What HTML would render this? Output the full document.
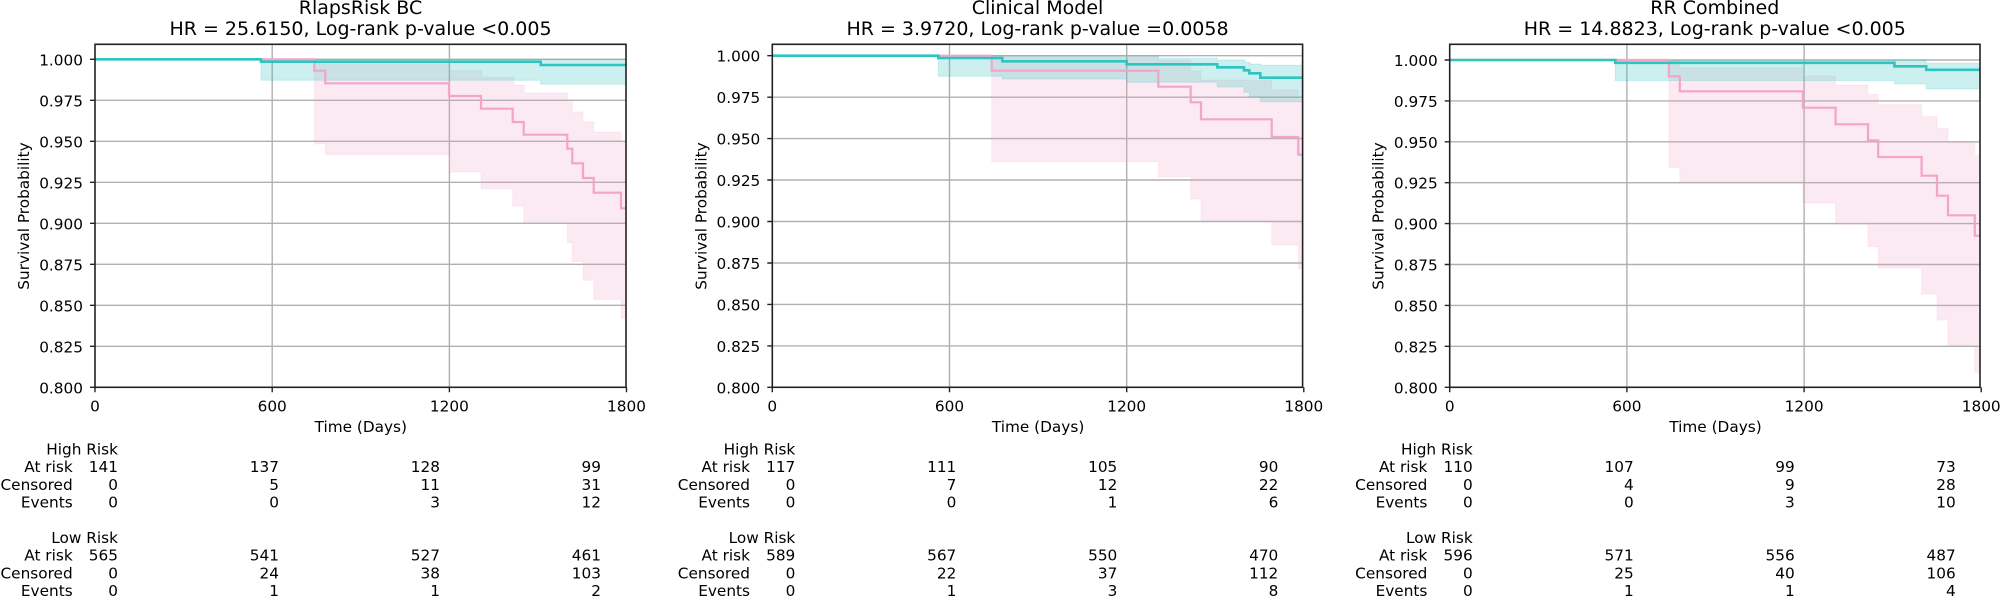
<!DOCTYPE html>
<html><head><meta charset="utf-8"><style>
html,body{margin:0;padding:0;background:#fff;}
svg{display:block;font-family:"DejaVu Sans","Liberation Sans",sans-serif;font-size:15.3px;}
.g{stroke:#b0b0b0;stroke-width:1.4;fill:none}
.sp{stroke:#222;stroke-width:1.6;fill:none}
.tl{stroke:#222;stroke-width:1.4}
.tb{fill:#2ec4be;fill-opacity:0.25;stroke:#2ec4be;stroke-opacity:0.2;stroke-width:1}
.pb{fill:#f0a0c4;fill-opacity:0.22;stroke:#f0a0c4;stroke-opacity:0.15;stroke-width:1}
.t{fill:none;stroke:#2ec4c0;stroke-width:2.6}
.p{fill:none;stroke:#f4a3c9;stroke-width:2.2}
.e{text-anchor:end}
.m{text-anchor:middle}
.ti{text-anchor:middle;font-size:19px}
</style></head><body>
<svg width="2000" height="597" viewBox="0 0 2000 597" xmlns="http://www.w3.org/2000/svg">

<!-- ============ PANEL 1 ============ -->
<g class="g">
<path d="M95,59.3H626M95,100.3H626M95,141.3H626M95,182.3H626M95,223.3H626M95,264.3H626M95,305.3H626M95,346.3H626"/>
<path d="M272.2,44.3V387.3M449.4,44.3V387.3"/>
</g>
<path class="pb" d="M314.3,59.3H449V70.7H481.7V77.3H513.7V85H524.3V93H567.3V102H572.3V112H583V121.7H593.7V132H621V141.7H626V318.3H621V299.3H593.7V280.3H583V261.7H572.3V242.7H567.3V222H523.7V206H512.7V188.7H481V172H449V154.7H325.3V144H314.3Z"/>
<path class="tb" d="M261,59.3H626V84.3H540.7V80.3H261Z"/>
<path class="p" d="M95,59.3H314.3V70.7H325.3V83.3H449V96H481V108.7H512.7V122H523.7V134.7H567.3V148.7H572.3V163.3H583V178H593.7V192.7H621V208.3H626"/>
<path class="t" d="M95,59.3H261V61.7H540.7V65H626"/>
<rect class="sp" x="95" y="44.3" width="531" height="343"/>
<path class="tl" d="M90,59.3H95M90,100.3H95M90,141.3H95M90,182.3H95M90,223.3H95M90,264.3H95M90,305.3H95M90,346.3H95M90,387.3H95"/>
<g class="e">
<text x="83" y="65.3">1.000</text><text x="83" y="106.3">0.975</text><text x="83" y="147.3">0.950</text><text x="83" y="188.3">0.925</text><text x="83" y="229.3">0.900</text><text x="83" y="270.3">0.875</text><text x="83" y="311.3">0.850</text><text x="83" y="352.3">0.825</text><text x="83" y="393.3">0.800</text>
</g>
<text class="ti" x="360.5" y="14">RlapsRisk BC</text>
<text class="ti" x="360.5" y="35">HR = 25.6150, Log-rank p-value &lt;0.005</text>

<!-- ============ PANEL 2 ============ -->
<g class="g">
<path d="M772.3,55.7H1302.6M772.3,97.2H1302.6M772.3,138.6H1302.6M772.3,180H1302.6M772.3,221.5H1302.6M772.3,263H1302.6M772.3,304.4H1302.6M772.3,345.9H1302.6"/>
<path d="M949.5,44.3V387.3M1126.7,44.3V387.3"/>
</g>
<path class="pb" d="M991.7,55.7H1158.3V60H1190.7V71H1201V80H1271.7V90H1298.3V100H1302.6V269H1298.3V245H1271.7V220.7H1201V199H1190.7V176.7H1158.3V161.7H991.7Z"/>
<path class="tb" d="M938.3,55.7H1158.3V58.3H1217.3V60H1245V62.3H1250V64H1260.7V65.3H1302.6V101.7H1260.3V96.7H1249.3V92.3H1244V87H1217.3V82.3H1126.7V79H1002.3V76.3H938.3Z"/>
<path class="p" d="M772.3,55.7H991.7V70.7H1158.3V86.7H1190.7V102.3H1201V119.3H1271.7V137H1298.3V154.7H1302.6"/>
<path class="t" d="M772.3,55.7H938.3V58H1002.3V61.3H1126.7V64.3H1217.3V67.3H1244V70.3H1249.3V73.3H1260.3V77.7H1302.6"/>
<rect class="sp" x="772.3" y="44.3" width="530.3" height="343"/>
<path class="tl" d="M767.3,55.7H772.3M767.3,97.2H772.3M767.3,138.6H772.3M767.3,180H772.3M767.3,221.5H772.3M767.3,263H772.3M767.3,304.4H772.3M767.3,345.9H772.3M767.3,387.3H772.3"/>
<g class="e">
<text x="760.3" y="61.7">1.000</text><text x="760.3" y="103.2">0.975</text><text x="760.3" y="144.6">0.950</text><text x="760.3" y="186">0.925</text><text x="760.3" y="227.5">0.900</text><text x="760.3" y="269">0.875</text><text x="760.3" y="310.4">0.850</text><text x="760.3" y="351.9">0.825</text><text x="760.3" y="393.3">0.800</text>
</g>
<text class="ti" x="1037.5" y="14">Clinical Model</text>
<text class="ti" x="1037.5" y="35">HR = 3.9720, Log-rank p-value =0.0058</text>

<!-- ============ PANEL 3 ============ -->
<g class="g">
<path d="M1449.7,60H1980M1449.7,100.9H1980M1449.7,141.8H1980M1449.7,182.7H1980M1449.7,223.6H1980M1449.7,264.5H1980M1449.7,305.4H1980M1449.7,346.3H1980"/>
<path d="M1626.9,44.3V387.3M1804.1,44.3V387.3"/>
</g>
<path class="pb" d="M1668.9,60H1679.8V67.7H1802.8V76H1835.6V85H1868V94.3H1878.2V104.7H1921.6V116.7H1937V128.3H1948V142.7H1974.8V155.7H1980V372.3H1974.8V345.7H1948V320H1937V294H1921.6V268H1878.2V246.7H1868V224.3H1835.6V203H1802.8V182H1679.8V167.7H1668.9Z"/>
<path class="tb" d="M1615.3,60H1926.2V63.3H1980V89H1926.2V84H1894.4V80.5H1615.3Z"/>
<path class="p" d="M1449.7,60H1668.9V76.3H1679.8V91.3H1802.8V107.7H1835.6V124.3H1868V140.3H1878.2V157H1921.6V175.7H1937V195.7H1948V215.3H1974.8V235.7H1980"/>
<path class="t" d="M1449.7,60H1615.3V62.8H1894.4V66.3H1926.2V69.8H1980"/>
<rect class="sp" x="1449.7" y="44.3" width="530.3" height="343"/>
<path class="tl" d="M1444.7,60H1449.7M1444.7,100.9H1449.7M1444.7,141.8H1449.7M1444.7,182.7H1449.7M1444.7,223.6H1449.7M1444.7,264.5H1449.7M1444.7,305.4H1449.7M1444.7,346.3H1449.7M1444.7,387.3H1449.7"/>
<g class="e">
<text x="1437.7" y="66">1.000</text><text x="1437.7" y="106.9">0.975</text><text x="1437.7" y="147.8">0.950</text><text x="1437.7" y="188.7">0.925</text><text x="1437.7" y="229.6">0.900</text><text x="1437.7" y="270.5">0.875</text><text x="1437.7" y="311.4">0.850</text><text x="1437.7" y="352.3">0.825</text><text x="1437.7" y="393.3">0.800</text>
</g>
<text class="ti" x="1714.8" y="14">RR Combined</text>
<text class="ti" x="1714.8" y="35">HR = 14.8823, Log-rank p-value &lt;0.005</text>

<!-- ============ shared per-panel: x ticks, labels ============ -->
<g>
<path class="tl" d="M95,387.3V392.3M272.2,387.3V392.3M449.4,387.3V392.3M626.5,387.3V392.3"/>
<text class="m" x="95" y="411.5">0</text><text class="m" x="272.2" y="411.5">600</text><text class="m" x="449.4" y="411.5">1200</text><text class="m" x="626.5" y="411.5">1800</text>
<text class="m" x="360.8" y="432">Time (Days)</text>
<text class="m" transform="translate(29,216) rotate(-90)">Survival Probability</text>
</g>
<g transform="translate(677.3,0)">
<path class="tl" d="M95,387.3V392.3M272.2,387.3V392.3M449.4,387.3V392.3M626.5,387.3V392.3"/>
<text class="m" x="95" y="411.5">0</text><text class="m" x="272.2" y="411.5">600</text><text class="m" x="449.4" y="411.5">1200</text><text class="m" x="626.5" y="411.5">1800</text>
<text class="m" x="360.8" y="432">Time (Days)</text>
<text class="m" transform="translate(29,216) rotate(-90)">Survival Probability</text>
</g>
<g transform="translate(1354.7,0)">
<path class="tl" d="M95,387.3V392.3M272.2,387.3V392.3M449.4,387.3V392.3M626.5,387.3V392.3"/>
<text class="m" x="95" y="411.5">0</text><text class="m" x="272.2" y="411.5">600</text><text class="m" x="449.4" y="411.5">1200</text><text class="m" x="626.5" y="411.5">1800</text>
<text class="m" x="360.8" y="432">Time (Days)</text>
<text class="m" transform="translate(29,216) rotate(-90)">Survival Probability</text>
</g>

<!-- tables -->
<g class="e">
<text x="118" y="454.5">High Risk</text>
<text x="72.7" y="472.2">At risk</text><text x="72.7" y="489.9">Censored</text><text x="72.7" y="507.6">Events</text>
<text x="118" y="472.2">141</text><text x="279" y="472.2">137</text><text x="440" y="472.2">128</text><text x="601" y="472.2">99</text>
<text x="118" y="489.9">0</text><text x="279" y="489.9">5</text><text x="440" y="489.9">11</text><text x="601" y="489.9">31</text>
<text x="118" y="507.6">0</text><text x="279" y="507.6">0</text><text x="440" y="507.6">3</text><text x="601" y="507.6">12</text>
<text x="118" y="543">Low Risk</text>
<text x="72.7" y="560.7">At risk</text><text x="72.7" y="578.4">Censored</text><text x="72.7" y="596">Events</text>
<text x="118" y="560.7">565</text><text x="279" y="560.7">541</text><text x="440" y="560.7">527</text><text x="601" y="560.7">461</text>
<text x="118" y="578.4">0</text><text x="279" y="578.4">24</text><text x="440" y="578.4">38</text><text x="601" y="578.4">103</text>
<text x="118" y="596">0</text><text x="279" y="596">1</text><text x="440" y="596">1</text><text x="601" y="596">2</text>
</g>
<g class="e" transform="translate(677.3,0)">
<text x="118" y="454.5">High Risk</text>
<text x="72.7" y="472.2">At risk</text><text x="72.7" y="489.9">Censored</text><text x="72.7" y="507.6">Events</text>
<text x="118" y="472.2">117</text><text x="279" y="472.2">111</text><text x="440" y="472.2">105</text><text x="601" y="472.2">90</text>
<text x="118" y="489.9">0</text><text x="279" y="489.9">7</text><text x="440" y="489.9">12</text><text x="601" y="489.9">22</text>
<text x="118" y="507.6">0</text><text x="279" y="507.6">0</text><text x="440" y="507.6">1</text><text x="601" y="507.6">6</text>
<text x="118" y="543">Low Risk</text>
<text x="72.7" y="560.7">At risk</text><text x="72.7" y="578.4">Censored</text><text x="72.7" y="596">Events</text>
<text x="118" y="560.7">589</text><text x="279" y="560.7">567</text><text x="440" y="560.7">550</text><text x="601" y="560.7">470</text>
<text x="118" y="578.4">0</text><text x="279" y="578.4">22</text><text x="440" y="578.4">37</text><text x="601" y="578.4">112</text>
<text x="118" y="596">0</text><text x="279" y="596">1</text><text x="440" y="596">3</text><text x="601" y="596">8</text>
</g>
<g class="e" transform="translate(1354.7,0)">
<text x="118" y="454.5">High Risk</text>
<text x="72.7" y="472.2">At risk</text><text x="72.7" y="489.9">Censored</text><text x="72.7" y="507.6">Events</text>
<text x="118" y="472.2">110</text><text x="279" y="472.2">107</text><text x="440" y="472.2">99</text><text x="601" y="472.2">73</text>
<text x="118" y="489.9">0</text><text x="279" y="489.9">4</text><text x="440" y="489.9">9</text><text x="601" y="489.9">28</text>
<text x="118" y="507.6">0</text><text x="279" y="507.6">0</text><text x="440" y="507.6">3</text><text x="601" y="507.6">10</text>
<text x="118" y="543">Low Risk</text>
<text x="72.7" y="560.7">At risk</text><text x="72.7" y="578.4">Censored</text><text x="72.7" y="596">Events</text>
<text x="118" y="560.7">596</text><text x="279" y="560.7">571</text><text x="440" y="560.7">556</text><text x="601" y="560.7">487</text>
<text x="118" y="578.4">0</text><text x="279" y="578.4">25</text><text x="440" y="578.4">40</text><text x="601" y="578.4">106</text>
<text x="118" y="596">0</text><text x="279" y="596">1</text><text x="440" y="596">1</text><text x="601" y="596">4</text>
</g>
</svg>
</body></html>
